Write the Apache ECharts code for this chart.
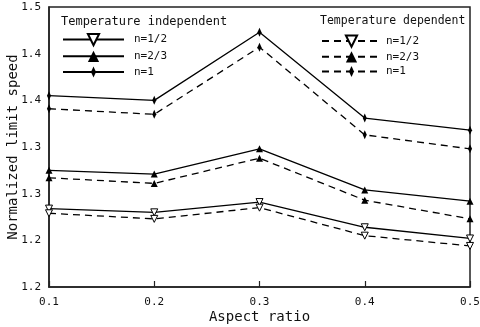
<!DOCTYPE html>
<html>
<head>
<meta charset="utf-8">
<script src="https://cdn.jsdelivr.net/npm/echarts@6/dist/echarts.min.js"></script>
<style>
  html, body { margin: 0; padding: 0; background: #fff; }
  #chart { width: 480px; height: 327px; }
</style>
</head>
<body>
<div id="chart"></div>
<script>
// 横轴类别（纵横比）
const aspectRatios = ['0.1', '0.2', '0.3', '0.4', '0.5'];
// 纵轴刻度标签（原图就是这样显示的）
const yTickLabels = ['1.2', '1.2', '1.3', '1.3', '1.4', '1.4', '1.5'];

// 与温度无关
const indepHalf = [1.284, 1.280, 1.291, 1.264, 1.252];
const indepTwoThirds = [1.325, 1.321, 1.348, 1.304, 1.292];
const indepOne = [1.405, 1.400, 1.473, 1.381, 1.368];
// 与温度相关
const depHalf = [1.279, 1.273, 1.285, 1.255, 1.244];
const depTwoThirds = [1.317, 1.311, 1.338, 1.293, 1.273];
const depOne = [1.391, 1.385, 1.457, 1.363, 1.348];

const FONT = 'DejaVu Sans Mono';
// 细长菱形（加了两个 moveTo 让包围盒是正方形）
const DIAMOND = 'path://M0,0M20,20M10,0L14.5,10L10,20L5.5,10Z';
// 倒三角（空心，用白色填充+黑边）
const TRI_DOWN = 'path://M0,0L10,0L5,9Z';
const TRI_UP = 'path://M5,0L10,9L0,9Z';

function makeSeries(name, data, symbol, dashed, size, hollow) {
    return {
        name: name,
        type: 'line',
        data: data,
        symbol: symbol,
        symbolSize: size,
        showAllSymbol: true,
        itemStyle: hollow
            ? { color: '#fff', borderColor: '#000', borderWidth: 1 }
            : { color: '#000' },
        lineStyle: { color: '#000', width: 1.3, type: dashed ? [7, 5] : 'solid' },
        emphasis: { disabled: true },
        z: 3
    };
}

const chart = echarts.init(document.getElementById('chart'), null, { renderer: 'canvas' });

chart.setOption({
    animation: false,
    backgroundColor: '#fff',
    textStyle: { fontFamily: FONT },
    title: [
        { text: 'Temperature independent', left: 61, top: 16, padding: 0,
          textStyle: { fontFamily: FONT, fontSize: 12, fontWeight: 'normal', color: '#111' } },
        { text: 'Temperature dependent', left: 320, top: 15, padding: 0,
          textStyle: { fontFamily: FONT, fontSize: 11.5, fontWeight: 'normal', color: '#111' } }
    ],
    legend: [
        {
            orient: 'vertical', left: 62, top: 33, padding: 0,
            itemWidth: 61, itemHeight: 14, itemGap: 4.5,
            data: ['n=1/2|ind', 'n=2/3|ind', 'n=1|ind'],
            formatter: name => name.split('|')[0],
            textStyle: { fontFamily: FONT, fontSize: 11, color: '#111', padding: [0, 0, 0, 5] }
        },
        {
            orient: 'vertical', left: 321, top: 34.5, padding: 0,
            itemWidth: 59, itemHeight: 14, itemGap: 3.5,
            data: ['n=1/2|dep', 'n=2/3|dep', 'n=1|dep'],
            formatter: name => name.split('|')[0],
            textStyle: { fontFamily: FONT, fontSize: 11, color: '#111' }
        }
    ],
    grid: {
        left: 49, right: 10, top: 7, bottom: 40,
        containLabel: false,
        outerBoundsMode: 'none',
        show: true, borderColor: '#222', borderWidth: 1.5
    },
    xAxis: {
        type: 'category',
        data: aspectRatios,
        boundaryGap: false,
        name: 'Aspect ratio',
        nameLocation: 'middle',
        nameGap: 23,
        nameMoveOverlap: false,
        nameTextStyle: { fontFamily: FONT, fontSize: 14, color: '#111' },
        axisLine: { lineStyle: { color: '#222', width: 1.5 } },
        axisTick: { inside: true, length: 6, interval: 0, lineStyle: { color: '#222', width: 1.2 } },
        axisLabel: { margin: 10, fontFamily: FONT, fontSize: 11, color: '#111', interval: 0 },
        splitLine: { show: false }
    },
    yAxis: {
        type: 'value',
        min: 1.2,
        max: 1.5,
        interval: 0.05,
        name: 'Normalized limit speed',
        nameLocation: 'middle',
        nameGap: 29,
        nameMoveOverlap: false,
        nameTextStyle: { fontFamily: FONT, fontSize: 14, color: '#111' },
        axisLine: { show: true, lineStyle: { color: '#222', width: 1.5 } },
        axisTick: { inside: true, length: 6, lineStyle: { color: '#222', width: 1.2 } },
        axisLabel: {
            margin: 8, fontFamily: FONT, fontSize: 11, color: '#111',
            formatter: v => yTickLabels[Math.round((v - 1.2) / 0.05)]
        },
        splitLine: { show: false }
    },
    series: [
        makeSeries('n=1/2|ind', indepHalf, TRI_DOWN, false, 7, true),
        makeSeries('n=2/3|ind', indepTwoThirds, TRI_UP, false, 7, false),
        makeSeries('n=1|ind', indepOne, DIAMOND, false, 9, false),
        makeSeries('n=1/2|dep', depHalf, TRI_DOWN, true, 7, true),
        makeSeries('n=2/3|dep', depTwoThirds, TRI_UP, true, 7, false),
        makeSeries('n=1|dep', depOne, DIAMOND, true, 9, false)
    ]
});
</script>
</body>
</html>
